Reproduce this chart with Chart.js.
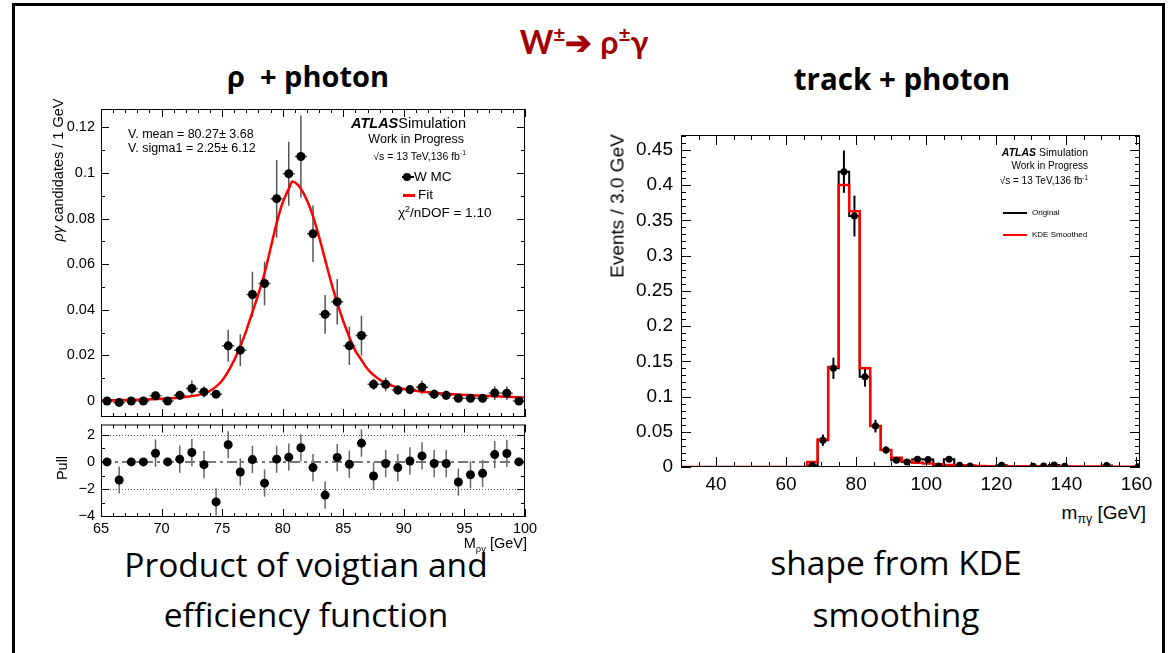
<!DOCTYPE html>
<html>
<head>
<meta charset="utf-8">
<script src="https://cdn.jsdelivr.net/npm/chart.js@4.4.1/dist/chart.umd.min.js"></script>
<style>
body{margin:0;background:#fff;width:1171px;height:653px;overflow:hidden;position:relative;font-family:"Liberation Sans",Arial,sans-serif;color:#000;}
canvas{position:absolute;}
.c{position:absolute;white-space:nowrap;line-height:1;transform:translate(-50%,-50%);}
.l{position:absolute;white-space:nowrap;line-height:1;transform:translateY(-50%);}
.v{position:absolute;white-space:nowrap;line-height:1;transform:translate(-50%,-50%) rotate(-90deg);}
.sl{font-family:"Open Sans",Lato,sans-serif;}
sup,sub{font-size:65%;line-height:0;}
#frame{position:absolute;left:12px;top:3px;width:1147px;height:700px;border:3px solid #000;border-bottom:none;}
</style>
</head>
<body>
<div id="frame"></div>

<div class="c" style="left:584px;top:42px;color:#a00000;font-weight:bold;font-size:32px;font-family:Lato,sans-serif;">W<sup>±</sup>➔ ρ<sup>±</sup>γ</div>
<div class="c sl" style="left:308px;top:75px;font-weight:bold;font-size:29px;">ρ&nbsp;&nbsp;+ photon</div>
<div class="c sl" style="left:902px;top:79px;font-weight:bold;font-size:29.5px;">track + photon</div>
<div class="c sl" style="left:306px;top:565px;font-size:33.5px;">Product of voigtian and</div>
<div class="c sl" style="left:306px;top:615px;font-size:33.5px;">efficiency function</div>
<div class="c sl" style="left:896px;top:563px;font-size:33.5px;">shape from KDE</div>
<div class="c sl" style="left:896px;top:615px;font-size:33.5px;">smoothing</div>

<canvas id="rhoMain" width="560" height="330" style="left:0;top:100px;width:560px;height:330px;"></canvas>
<canvas id="rhoPull" width="560" height="130" style="left:0;top:420px;width:560px;height:130px;"></canvas>
<canvas id="trackHist" width="560" height="380" style="left:600px;top:120px;width:560px;height:380px;"></canvas>

<!-- left plot texts -->
<div class="v" style="left:58px;top:170px;font-size:14.5px;"><i>ργ</i> candidates / 1 GeV</div>
<div class="v" style="left:62px;top:468px;font-size:14.5px;">Pull</div>
<div class="l" style="right:644px;top:543px;font-size:14.5px;">M<sub>ργ</sub> [GeV]</div>
<div class="l" style="left:128px;top:134px;font-size:12.5px;">V. mean = 80.27± 3.68</div>
<div class="l" style="left:128px;top:148px;font-size:12.5px;">V. sigma1 = 2.25± 6.12</div>
<div class="l" style="right:705px;top:123px;font-size:14.5px;"><b><i>ATLAS</i></b>Simulation</div>
<div class="l" style="right:707px;top:139px;font-size:12.5px;">Work in Progress</div>
<div class="l" style="right:705px;top:156px;font-size:10.5px;">√s = 13 TeV,136 fb<sup>-1</sup></div>
<div style="position:absolute;left:402px;top:176px;width:12px;height:1.5px;background:#000;"></div>
<div style="position:absolute;left:403px;top:173px;width:8px;height:8px;border-radius:50%;background:#000;"></div>
<div class="l" style="left:414px;top:177px;font-size:13.5px;">W MC</div>
<div style="position:absolute;left:403px;top:194px;width:12px;height:3px;background:#f00;"></div>
<div class="l" style="left:418px;top:195px;font-size:13.5px;">Fit</div>
<div class="l" style="left:398px;top:213px;font-size:13.5px;">χ<sup>2</sup>/nDOF = 1.10</div>

<!-- right plot texts -->
<div class="v" style="left:617px;top:206px;font-size:19px;">Events / 3.0 GeV</div>
<div class="l" style="right:25px;top:512px;font-size:19px;">m<sub>πγ</sub> [GeV]</div>
<div class="l" style="right:83px;top:152px;font-size:10.5px;"><b><i>ATLAS</i></b> Simulation</div>
<div class="l" style="right:83px;top:165.5px;font-size:10px;">Work in Progress</div>
<div class="l" style="right:83px;top:181px;font-size:10px;">√s = 13 TeV,136 fb<sup>-1</sup></div>
<div style="position:absolute;left:1003px;top:212px;width:24px;height:2px;background:#000;"></div>
<div class="l" style="left:1032px;top:213px;font-size:8px;">Original</div>
<div style="position:absolute;left:1003px;top:234px;width:24px;height:2px;background:#f00;"></div>
<div class="l" style="left:1032px;top:235px;font-size:8px;">KDE Smoothed</div>

<script>
// rho + photon: W MC points (bin centres, 1 GeV bins)
const rhoMass = [65.5, 66.5, 67.5, 68.5, 69.5, 70.5, 71.5, 72.5, 73.5, 74.5, 75.5, 76.5, 77.5, 78.5, 79.5, 80.5, 81.5, 82.5, 83.5, 84.5, 85.5, 86.5, 87.5, 88.5, 89.5, 90.5, 91.5, 92.5, 93.5, 94.5, 95.5, 96.5, 97.5, 98.5, 99.5];
const rhoCand = [0, -0.0006, 0, 0, 0.0023, 0, 0.0025, 0.0055, 0.004, 0.003, 0.0242, 0.0223, 0.0467, 0.0515, 0.0887, 0.0996, 0.1072, 0.0733, 0.038, 0.0435, 0.0242, 0.0287, 0.0073, 0.0073, 0.0048, 0.005, 0.006, 0.003, 0.0025, 0.0012, 0.0012, 0.0012, 0.0035, 0.0034, 0];
const rhoErr = [0.001, 0.001, 0.001, 0.001, 0.002, 0.001, 0.002, 0.0035, 0.0025, 0.0015, 0.007, 0.007, 0.01, 0.0095, 0.017, 0.014, 0.018, 0.0124, 0.0085, 0.01, 0.0084, 0.0087, 0.0025, 0.003, 0.002, 0.002, 0.003, 0.002, 0.002, 0.001, 0.001, 0.001, 0.003, 0.003, 0.001];
// fit curve
const fitMass = [65, 68, 70, 72, 73, 74, 74.5, 75, 75.5, 76, 76.5, 77, 77.5, 78, 78.5, 79, 79.5, 80, 80.5, 80.8, 81.2, 81.5, 82, 82.5, 83, 83.5, 84, 84.5, 85, 85.5, 86, 86.5, 87, 87.5, 88.5, 89.5, 90.5, 92, 94, 96, 98, 100];
const fitValue = [0.0003, 0.0006, 0.001, 0.0018, 0.0026, 0.0045, 0.0063, 0.009, 0.013, 0.018, 0.024, 0.031, 0.039, 0.047, 0.056, 0.067, 0.078, 0.087, 0.093, 0.0962, 0.095, 0.093, 0.088, 0.081, 0.072, 0.062, 0.052, 0.043, 0.035, 0.028, 0.022, 0.018, 0.014, 0.0114, 0.0077, 0.006, 0.0048, 0.0038, 0.003, 0.0024, 0.002, 0.0015];
// pulls
const pullValue = [0, -1.33, 0, 0, 0.64, 0, 0.2, 0.69, -0.2, -2.94, 1.26, -0.74, 0.17, -1.56, 0.2, 0.35, 1.04, -0.42, -2.44, 0.32, -0.17, 1.38, -1.04, -0.12, -0.42, 0.07, 0.44, -0.12, -0.12, -1.48, -0.94, -0.84, 0.54, 0.62, 0];
const pullErr = [0, 1, 0, 0, 1, 0, 1, 1, 1, 1, 1, 1, 1, 1, 1, 1, 1, 1, 1, 1, 1, 1, 1, 1, 1, 1, 1, 1, 1, 1, 1, 1, 1, 1, 0];
const pullLines = [2, -2, -4];
const rhoXTicks = [65, 70, 75, 80, 85, 90, 95, 100];
const rhoYTicks = [0, 0.02, 0.04, 0.06, 0.08, 0.1, 0.12];
const pullYTicks = [-4, -2, 0, 2];

// track + photon: 3 GeV bins from 30 GeV
const trackMass = [67.5, 70.5, 73.5, 76.5, 79.5, 82.5, 85.5, 88.5, 91.5, 94.5, 97.5, 100.5, 103.5, 106.5, 109.5, 112.5, 121.5, 130.5, 133.5, 136.5, 139.5, 151.5, 160.5];
const trackEvents = [0.002, 0.038, 0.14, 0.419, 0.356, 0.128, 0.058, 0.024, 0.0095, 0.0071, 0.011, 0.0105, 0.0015, 0.011, 0.0025, 0.0015, 0.0025, 0.001, 0.0015, 0.003, 0.0012, 0.002, 0.0005];
const trackErr = [0.002, 0.008, 0.015, 0.03, 0.029, 0.014, 0.009, 0.005, 0.003, 0.003, 0.003, 0.003, 0.001, 0.003, 0.002, 0.001, 0.002, 0.001, 0.001, 0.002, 0.001, 0.001, 0.001];
const binLow = 30, binWidth = 3, histMax = 161;
const kdeSmoothed = [0, 0, 0, 0, 0, 0, 0, 0, 0, 0, 0, 0, 0.007, 0.039, 0.142, 0.4, 0.363, 0.14, 0.058, 0.024, 0.013, 0.0085, 0.006, 0.005, 0.004, 0.003, 0.0025, 0.002, 0.0015, 0.0012, 0.001, 0.001, 0.0009, 0.0009, 0.0008, 0.0008, 0.0007, 0.0007, 0.0006, 0.0006, 0.0006, 0.0005, 0.0005, 0.0005];
const trackXTicks = [40, 60, 80, 100, 120, 140, 160];
const trackYTicks = [0, 0.05, 0.1, 0.15, 0.2, 0.25, 0.3, 0.35, 0.4, 0.45];

// original histogram: same numbers as the points, zero elsewhere
const original = kdeSmoothed.map(() => 0);
trackMass.forEach((m, i) => { original[Math.round((m - binLow - binWidth / 2) / binWidth)] = trackEvents[i]; });

function histLine(values) {
  const pts = values.map((v, i) => ({x: binLow + i * binWidth, y: v}));
  pts.push({x: histMax, y: values[values.length - 1]});
  return pts;
}

const fmt = v => { const s = String(+v.toFixed(3)); return v < 0 ? '\u2212' + s.slice(1) : s; };

// ROOT-like frame with inner ticks on all four sides
const rootFrame = {
  id: 'rootFrame',
  afterDraw(chart, args, o) {
    const {ctx, chartArea: a, scales: {x, y}} = chart;
    ctx.save();
    ctx.strokeStyle = '#000';
    ctx.lineWidth = 1;
    ctx.strokeRect(a.left + 0.5, a.top + 0.5, a.right - a.left - 1, a.bottom - a.top - 1);
    ctx.beginPath();
    let k0 = Math.ceil(x.min / o.xMinor - 1e-6), k1 = Math.floor(x.max / o.xMinor + 1e-6);
    for (let k = k0; k <= k1; k++) {
      const v = k * o.xMinor;
      const major = Math.abs(v / o.xMajor - Math.round(v / o.xMajor)) < 1e-6;
      const len = major ? o.major : o.minor;
      const px = Math.round(x.getPixelForValue(v)) + 0.5;
      ctx.moveTo(px, a.bottom); ctx.lineTo(px, a.bottom - len);
      ctx.moveTo(px, a.top); ctx.lineTo(px, a.top + len);
    }
    k0 = Math.ceil(y.min / o.yMinor - 1e-6); k1 = Math.floor(y.max / o.yMinor + 1e-6);
    for (let k = k0; k <= k1; k++) {
      const v = k * o.yMinor;
      const major = Math.abs(v / o.yMajor - Math.round(v / o.yMajor)) < 1e-6;
      const len = major ? o.major : o.minor;
      const py = Math.round(y.getPixelForValue(v)) + 0.5;
      ctx.moveTo(a.left, py); ctx.lineTo(a.left + len, py);
      ctx.moveTo(a.right, py); ctx.lineTo(a.right - len, py);
    }
    ctx.stroke();
    ctx.restore();
  }
};

const errorBars = {
  id: 'errorBars',
  beforeDatasetsDraw(chart) {
    const {ctx, scales: {x, y}} = chart;
    chart.data.datasets.forEach(ds => {
      if (!ds.errY) return;
      ctx.save();
      ctx.strokeStyle = ds.errColor;
      ctx.lineWidth = ds.errWidth;
      ds.data.forEach((p, j) => {
        const px = x.getPixelForValue(p.x);
        ctx.beginPath();
        if (ds.errY[j] > 0) {
          ctx.moveTo(px, y.getPixelForValue(p.y - ds.errY[j]));
          ctx.lineTo(px, y.getPixelForValue(p.y + ds.errY[j]));
        }
        if (ds.errX) {
          const py = y.getPixelForValue(p.y);
          ctx.moveTo(x.getPixelForValue(p.x - ds.errX), py);
          ctx.lineTo(x.getPixelForValue(p.x + ds.errX), py);
        }
        ctx.stroke();
      });
      ctx.restore();
    });
  }
};

const refLines = {
  id: 'refLines',
  beforeDatasetsDraw(chart, args, o) {
    if (!o.dotted) return;
    const {ctx, chartArea: a, scales: {y}} = chart;
    ctx.save();
    ctx.strokeStyle = '#555';
    ctx.lineWidth = 1;
    ctx.setLineDash([1, 2]);
    o.dotted.forEach(v => {
      const py = Math.round(y.getPixelForValue(v)) + 0.5;
      ctx.beginPath(); ctx.moveTo(a.left, py); ctx.lineTo(a.right, py); ctx.stroke();
    });
    ctx.strokeStyle = '#777';
    ctx.lineWidth = 2;
    ctx.setLineDash([10, 4, 3, 4]);
    const p0 = y.getPixelForValue(0);
    ctx.beginPath(); ctx.moveTo(a.left, p0); ctx.lineTo(a.right, p0); ctx.stroke();
    ctx.restore();
  }
};

Chart.register(rootFrame, errorBars, refLines);
Chart.defaults.font.family = '"Liberation Sans", Arial, sans-serif';
Chart.defaults.color = '#000';

function noPad(s) { s.paddingTop = 0; s.paddingBottom = 0; s.paddingLeft = 0; s.paddingRight = 0; }
function yScale(min, max, ticks, width, size, pad) {
  return {
    type: 'linear', min: min, max: max,
    grid: {display: false, drawTicks: false}, border: {display: false},
    ticks: {font: {size: size}, padding: pad, callback: fmt},
    afterBuildTicks(s) { s.ticks = ticks.map(v => ({value: v})); },
    afterFit(s) { s.width = width; noPad(s); }
  };
}
function xScale(min, max, ticks, size, pad, height) {
  return {
    type: 'linear', min: min, max: max, display: height > 0,
    grid: {display: false, drawTicks: false}, border: {display: false},
    ticks: {font: {size: size}, padding: pad, maxRotation: 0, callback: fmt},
    afterBuildTicks(s) { s.ticks = ticks.map(v => ({value: v})); },
    afterFit(s) { s.height = height; noPad(s); }
  };
}
const common = {
  responsive: false, animation: false, devicePixelRatio: 1,
  plugins: {legend: {display: false}, tooltip: {enabled: false}}
};

new Chart(document.getElementById('rhoMain'), {
  type: 'scatter',
  data: {
    datasets: [
      {
        data: rhoMass.map((m, i) => ({x: m, y: rhoCand[i]})),
        errY: rhoErr, errX: 0.5, errColor: '#555', errWidth: 1.5,
        pointRadius: 4.5, pointBackgroundColor: '#000', pointBorderWidth: 0, order: 1
      },
      {
        data: fitMass.map((m, i) => ({x: m, y: fitValue[i]})),
        showLine: true, borderColor: '#ff0000', borderWidth: 2.5, pointRadius: 0,
        cubicInterpolationMode: 'monotone', order: 2
      }
    ]
  },
  options: {
    ...common,
    layout: {padding: {left: 41, right: 35, top: 9, bottom: 13}},
    scales: {
      x: xScale(65, 100, rhoXTicks, 14.5, 3, 0),
      y: yScale(-0.007, 0.128, rhoYTicks, 60, 14.5, 6)
    },
    plugins: {...common.plugins, rootFrame: {xMajor: 5, xMinor: 1, yMajor: 0.02, yMinor: 0.01, major: 8, minor: 4}}
  }
});

new Chart(document.getElementById('rhoPull'), {
  type: 'scatter',
  data: {
    datasets: [{
      data: rhoMass.map((m, i) => ({x: m, y: pullValue[i]})),
      errY: pullErr, errColor: '#666', errWidth: 1.5,
      pointRadius: 4.5, pointBackgroundColor: '#000', pointBorderWidth: 0
    }]
  },
  options: {
    ...common,
    layout: {padding: {left: 41, right: 35, top: 4, bottom: 0}},
    scales: {
      x: xScale(65, 100, rhoXTicks, 14.5, 3, 33),
      y: yScale(-4.05, 2.75, pullYTicks, 60, 14.5, 6)
    },
    plugins: {...common.plugins, refLines: {dotted: pullLines}, rootFrame: {xMajor: 5, xMinor: 1, yMajor: 2, yMinor: 1, major: 8, minor: 4}}
  }
});

new Chart(document.getElementById('trackHist'), {
  type: 'scatter',
  data: {
    datasets: [
      {
        data: trackMass.map((m, i) => ({x: m, y: trackEvents[i]})),
        errY: trackErr, errColor: '#000', errWidth: 2,
        pointRadius: 3.5, pointBackgroundColor: '#000', pointBorderWidth: 0, order: 1
      },
      {
        data: histLine(kdeSmoothed), showLine: true, stepped: 'before',
        borderColor: '#ff0000', borderWidth: 2.5, pointRadius: 0, order: 2
      },
      {
        data: histLine(original), showLine: true, stepped: 'before',
        borderColor: '#000', borderWidth: 2, pointRadius: 0, order: 3
      }
    ]
  },
  options: {
    ...common,
    layout: {padding: {left: 10, right: 20, top: 15, bottom: 0}},
    scales: {
      x: xScale(30, histMax, trackXTicks, 19, 6, 33),
      y: yScale(0, 0.471, trackYTicks, 71, 19, 8)
    },
    plugins: {...common.plugins, rootFrame: {xMajor: 20, xMinor: 5, yMajor: 0.05, yMinor: 0.01, major: 10, minor: 5}}
  }
});
</script>
</body>
</html>
